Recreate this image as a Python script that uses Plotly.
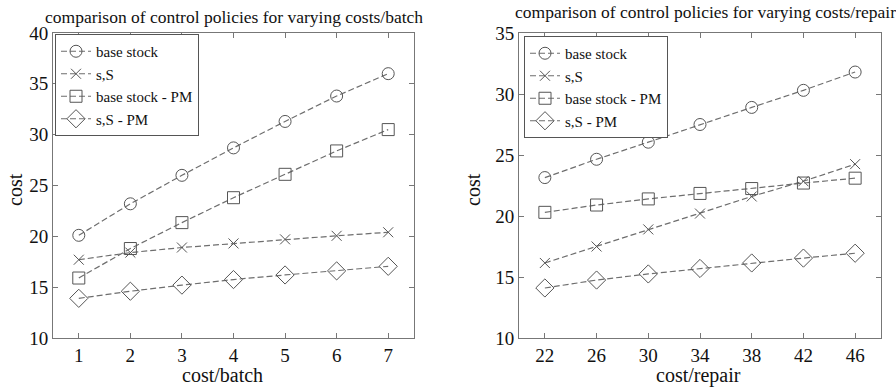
import plotly.graph_objects as go

# ---- data ----
batch_x = [1, 2, 3, 4, 5, 6, 7]
batch_base_stock = [20.1, 23.2, 26.0, 28.7, 31.3, 33.8, 36.0]
batch_sS = [17.7, 18.4, 18.9, 19.3, 19.7, 20.05, 20.4]
batch_base_stock_pm = [15.9, 18.8, 21.35, 23.8, 26.1, 28.4, 30.5]
batch_sS_pm = [13.9, 14.6, 15.2, 15.75, 16.2, 16.6, 17.05]

repair_x = [22, 26, 30, 34, 38, 42, 46]
repair_base_stock = [23.15, 24.65, 26.05, 27.5, 28.9, 30.3, 31.8]
repair_sS = [16.15, 17.5, 18.9, 20.2, 21.6, 22.85, 24.25]
repair_base_stock_pm = [20.3, 20.9, 21.4, 21.85, 22.25, 22.7, 23.1]
repair_sS_pm = [14.1, 14.75, 15.25, 15.7, 16.15, 16.55, 16.95]

series_names = ["base stock", "s,S", "base stock - PM", "s,S - PM"]
symbols = ["circle-open", "x-thin-open", "square-open", "diamond-open"]
sizes = [12, 10, 12, 14]

W, H = 896, 387
FONT = "Liberation Serif"
LINE_COL = "#6e6e6e"
MARK_COL = "#555555"
AX_COL = "#777777"

fig = go.Figure()

left_sets = [batch_base_stock, batch_sS, batch_base_stock_pm, batch_sS_pm]
right_sets = [repair_base_stock, repair_sS, repair_base_stock_pm, repair_sS_pm]

for name, ys, sym, sz in zip(series_names, left_sets, symbols, sizes):
    fig.add_trace(go.Scatter(
        x=batch_x, y=ys, name=name, mode="lines+markers",
        line=dict(color=LINE_COL, width=1.2, dash="6px,3px"),
        marker=dict(symbol=sym, size=sz, color=MARK_COL, line=dict(color=MARK_COL, width=1)),
        xaxis="x", yaxis="y", legend="legend"))
for name, ys, sym, sz in zip(series_names, right_sets, symbols, sizes):
    fig.add_trace(go.Scatter(
        x=repair_x, y=ys, name=name, mode="lines+markers",
        line=dict(color=LINE_COL, width=1.2, dash="6px,3px"),
        marker=dict(symbol=sym, size=sz, color=MARK_COL, line=dict(color=MARK_COL, width=1)),
        xaxis="x2", yaxis="y2", legend="legend2"))

def px_x(p):
    return p / W

def px_y(p):
    return 1 - p / H

axis_common = dict(
    showline=True, linecolor=AX_COL, linewidth=1, mirror="ticks",
    ticks="inside", ticklen=5, tickcolor=AX_COL, tickwidth=1,
    showgrid=False, zeroline=False, automargin=False,
    tickfont=dict(family=FONT, size=19, color="#111111"),
)

ydom = [px_y(338), px_y(33)]
legend_common = dict(
    xanchor="left", yanchor="top", xref="paper", yref="paper",
    bgcolor="white", bordercolor="#555555", borderwidth=1,
    font=dict(family=FONT, size=15, color="#111111"),
    itemwidth=30, tracegroupgap=0,
)
fig.update_layout(
    width=W, height=H,
    margin=dict(l=0, r=0, t=0, b=0, autoexpand=False),
    paper_bgcolor="white", plot_bgcolor="white",
    font=dict(family=FONT, color="#111111"),
    xaxis=dict(domain=[px_x(53), px_x(414)], range=[0.5, 7.5],
               tickvals=batch_x, anchor="y", **axis_common),
    yaxis=dict(domain=ydom, range=[10, 40], tickvals=[10, 15, 20, 25, 30, 35, 40],
               anchor="x", **axis_common),
    xaxis2=dict(domain=[px_x(519), px_x(881)], range=[20, 48],
                tickvals=repair_x, anchor="y2", **axis_common),
    yaxis2=dict(domain=ydom, range=[10, 35], tickvals=[10, 15, 20, 25, 30, 35],
                anchor="x2", **axis_common),
    legend=dict(x=px_x(55), y=px_y(34), **legend_common),
    legend2=dict(x=px_x(524), y=px_y(36), **legend_common),
    showlegend=True,
)

annotations = [
    dict(text="comparison of control policies for varying costs/batch",
         x=px_x(234), y=px_y(17), font=dict(size=17.5)),
    dict(text="comparison of control policies for varying costs/repair",
         x=px_x(705), y=px_y(12), font=dict(size=17.5)),
    dict(text="cost/batch", x=px_x(222), y=px_y(375), font=dict(size=20)),
    dict(text="cost/repair", x=px_x(698), y=px_y(375), font=dict(size=20)),
    dict(text="cost", x=px_x(15), y=px_y(190), textangle=-90, font=dict(size=20)),
    dict(text="cost", x=px_x(473), y=px_y(190), textangle=-90, font=dict(size=20)),
]
for a in annotations:
    a.update(xref="paper", yref="paper", showarrow=False,
             xanchor="center", yanchor="middle")
    a["font"].update(family=FONT, color="#111111")
fig.update_layout(annotations=annotations)

fig.write_html("out.html",
               config={"displayModeBar": False},
               post_script="document.body.style.margin='0px';document.body.style.overflow='hidden';")
